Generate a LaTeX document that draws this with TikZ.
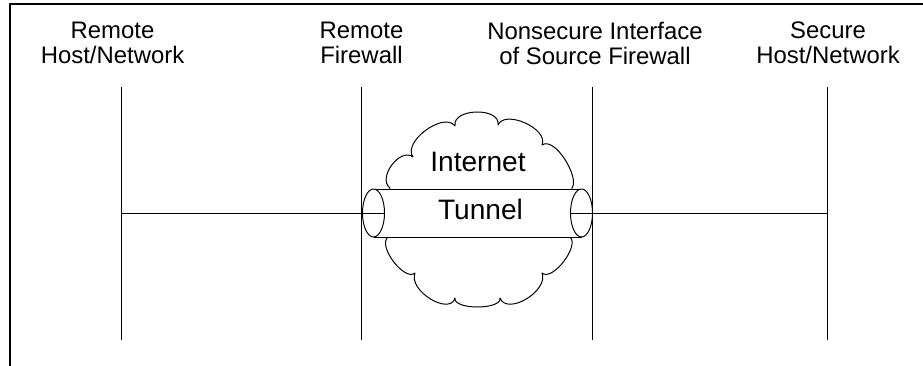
\documentclass[tikz,border=0pt]{standalone}
\usepackage{fontspec}
\setmainfont{Liberation Sans}
\usetikzlibrary{calc}

\tikzset{
  sitelabel/.style={anchor=north, inner sep=0pt, align=center,
    font=\fontsize{17}{17.7}\selectfont},
  cloudtext/.style={anchor=base, inner sep=0pt,
    font=\fontsize{20}{24}\selectfont},
  wire/.style={line width=0.7pt}
}

\begin{document}
\begin{tikzpicture}[x=0.025cm, y=-0.025cm, line join=round]
      \useasboundingbox (0,0) rectangle (923,366);

      \draw[line width=1pt] (10,366) -- (10,4) -- (923,4);

      \node[sitelabel] (rhost) at (112.5,22) {Remote\\Host/Network};
      \node[sitelabel] (rfw) at (361.5,22) {Remote\\Firewall};
      \node[sitelabel] (sfw) at (595,22) {Nonsecure Interface\\of Source Firewall};
      \node[sitelabel] (shost) at (828,22) {Secure\\Host/Network};

      \coordinate (rhostT) at (121,87);
      \coordinate (rhostM) at (121,213);
      \coordinate (rhostB) at (121,340);
      \coordinate (rfwT) at (361,87);
      \coordinate (rfwB) at (361,340);
      \coordinate (sfwT) at (592,87);
      \coordinate (sfwB) at (592,340);
      \coordinate (shostT) at (827,87);
      \coordinate (shostM) at (827,213);
      \coordinate (shostB) at (827,340);

      \foreach \n in {rhost, rfw, sfw, shost} {
          \draw[wire] (\n T) -- (\n B);
      }

      % cloud
      \draw[wire, fill=white] (390,188) .. controls (377,178) and (400,147) .. (413,157)
          .. controls (402,142) and (444,111) .. (455,126)
          .. controls (452,108) and (501,107) .. (498,125)
          .. controls (505,109) and (549,129) .. (542,145)
          .. controls (555,136) and (580,178) .. (572,188)
          -- (570,237)
          .. controls (580,246) and (552,282) .. (542,273)
          .. controls (549,291) and (507,316) .. (500,298)
          .. controls (502,310) and (453,310) .. (455,298)
          .. controls (450,316) and (408,291) .. (415,273)
          .. controls (405,282) and (377,246) .. (388,237)
          -- cycle;

      % tunnel
      \coordinate (tl) at (373.5,213);
      \coordinate (tr) at (581.5,213);
      \coordinate (tle) at ($(tl)+(11,0)$);
      \coordinate (trw) at ($(tr)+(-11,0)$);
      \fill[white] ($(tl)+(0,-24)$) rectangle ($(tr)+(0,24)$);
      \draw[wire] ($(tl)+(0,-24)$) -- ($(tr)+(0,-24)$);
      \draw[wire] ($(tl)+(0,24)$) -- ($(tr)+(0,24)$);
      \draw[wire, fill=white] (tl) ellipse [x radius=11, y radius=24];
      \draw[wire, fill=white] (tr) ellipse [x radius=11, y radius=24];

      \draw[wire] (rhostM) -- (tle);
      \draw[wire] (trw) -- (shostM);

      \node[cloudtext] (inet) at (478,172) {Internet};
      \node[cloudtext] (tunnel) at (480.5,219.5) {Tunnel};
    \end{tikzpicture}
\end{document}
